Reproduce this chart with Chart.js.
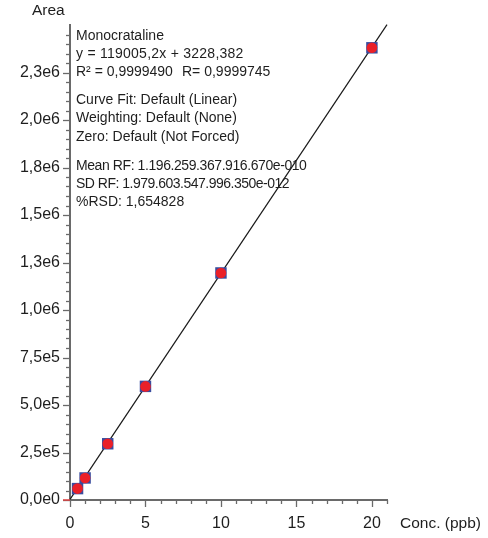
<!DOCTYPE html>
<html>
<head>
<meta charset="utf-8">
<script src="https://cdn.jsdelivr.net/npm/chart.js@4.4.1/dist/chart.umd.min.js"></script>
<style>
  html, body { margin: 0; padding: 0; background: #ffffff; }
  #wrap { width: 488px; height: 538px; position: relative; }
</style>
</head>
<body>
<div id="wrap"><canvas id="c" width="488" height="538"></canvas></div>
<script>
// ---- data ----
const concX = [0.5, 1, 2.5, 5, 10, 20];
const areaY = [60000, 116000, 296000, 598000, 1195000, 2380000];
const fitX = [0, 21];
const fitY = [3228, 2502337];
const xTickValues = [0, 5, 10, 15, 20];
const xTickLabels = ["0", "5", "10", "15", "20"];
const yTickValues = [0, 250000, 500000, 750000, 1000000, 1250000, 1500000, 1750000, 2000000, 2250000];
const yTickLabels = ["0,0e0", "2,5e5", "5,0e5", "7,5e5", "1,0e6", "1,3e6", "1,5e6", "1,8e6", "2,0e6", "2,3e6"];
const infoLines = [
  "Monocrataline",
  "y = 119005,2x + 3228,382",
  "R\u00B2 = 0,9999490",
  "Curve Fit: Default (Linear)",
  "Weighting: Default (None)",
  "Zero: Default (Not Forced)",
  "Mean RF: 1.196.259.367.916.670e-010",
  "SD RF: 1.979.603.547.996.350e-012",
  "%RSD: 1,654828"
];
const infoExtra = "R= 0,9999745";
const xTitle = "Conc. (ppb)";
const yTitle = "Area";

const FONT = "'Liberation Sans', Arial, sans-serif";
const AXIS = "#6a6a6a";
const TEXT = "#1e1e1e";

const decor = {
  id: 'decor',
  afterDraw(chart) {
    const ctx = chart.ctx;
    const xs = chart.scales.x, ys = chart.scales.y;
    ctx.save();
    ctx.strokeStyle = AXIS;
    ctx.lineWidth = 1.3;
    // x ticks (every 1 unit, long at multiples of 5)
    const x0 = ys.getPixelForValue(0);
    for (let v = 0; v <= xs.max + 1e-9; v += 1) {
      const px = Math.round(xs.getPixelForValue(v)) + 0.5;
      const len = (v % 5 === 0) ? 7 : 4;
      ctx.beginPath();
      ctx.moveTo(px, x0);
      ctx.lineTo(px, x0 + len);
      ctx.stroke();
    }
    // y ticks (every 5e4, long at multiples of 2.5e5)
    const yAxisX = xs.getPixelForValue(0);
    for (let v = 0; v <= ys.max - 1; v += 50000) {
      const py = Math.round(ys.getPixelForValue(v)) + 0.5;
      const len = (v % 250000 === 0) ? 7 : 4;
      ctx.beginPath();
      ctx.moveTo(yAxisX, py);
      ctx.lineTo(yAxisX - len, py);
      ctx.stroke();
    }
    // small red mark at the origin
    ctx.strokeStyle = '#e04040';
    ctx.lineWidth = 1.5;
    ctx.beginPath();
    ctx.moveTo(yAxisX - 7, x0);
    ctx.lineTo(yAxisX, x0);
    ctx.stroke();
    // titles
    ctx.fillStyle = TEXT;
    ctx.textBaseline = 'alphabetic';
    ctx.textAlign = 'left';
    ctx.font = "15.5px " + FONT;
    ctx.fillText(yTitle, 32, 15);
    ctx.fillText(xTitle, 400, 528);
    // info text
    ctx.font = "14px " + FONT;
    const base = [40, 58, 76, 104, 122, 141, 170, 188, 206];
    const spacing = ['0px', '0.25px', '0px', '0px', '0px', '0px', '-0.42px', '-0.5px', '0px'];
    infoLines.forEach((t, i) => {
      ctx.letterSpacing = spacing[i];
      ctx.fillText(t, 76, base[i]);
    });
    ctx.letterSpacing = '0px';
    ctx.fillText(infoExtra, 182, base[2]);
    ctx.restore();
  }
};

new Chart(document.getElementById('c'), {
  type: 'scatter',
  data: {
    datasets: [
      {
        type: 'line',
        data: fitX.map((x, i) => ({ x, y: fitY[i] })),
        borderColor: '#1a1a1a',
        borderWidth: 1.2,
        pointRadius: 0,
        fill: false,
        clip: false,
        order: 3
      },
      {
        data: concX.map((x, i) => ({ x, y: areaY[i] })),
        pointStyle: 'rect',
        pointRadius: 8.1,
        backgroundColor: '#3a4c9e',
        borderWidth: 0,
        order: 2
      },
      {
        data: concX.map((x, i) => ({ x, y: areaY[i] })),
        pointStyle: 'circle',
        pointRadius: 5.3,
        backgroundColor: '#ea2028',
        borderWidth: 0,
        order: 1
      }
    ]
  },
  options: {
    responsive: false,
    animation: false,
    events: [],
    layout: { padding: { left: 0, right: 101, top: 25, bottom: 0 } },
    plugins: { legend: { display: false }, tooltip: { enabled: false } },
    scales: {
      x: {
        type: 'linear',
        min: 0, max: 21,
        afterFit(s) { s.height = 38; },
        afterBuildTicks(s) { s.ticks = xTickValues.map(v => ({ value: v })); },
        grid: { display: true, drawOnChartArea: false, drawTicks: false },
        border: { display: true, color: AXIS, width: 2 },
        ticks: {
          padding: 14,
          color: TEXT,
          font: { family: FONT, size: 16 },
          maxRotation: 0,
          callback: (v) => { const i = xTickValues.indexOf(v); return i >= 0 ? xTickLabels[i] : ''; }
        }
      },
      y: {
        type: 'linear',
        min: 0, max: 2500000,
        afterFit(s) { s.width = 70; },
        afterBuildTicks(s) { s.ticks = yTickValues.map(v => ({ value: v })); },
        grid: { display: true, drawOnChartArea: false, drawTicks: false },
        border: { display: true, color: AXIS, width: 2 },
        ticks: {
          padding: 10,
          color: TEXT,
          font: { family: FONT, size: 16 },
          callback: (v) => { const i = yTickValues.indexOf(v); return i >= 0 ? yTickLabels[i] : ''; }
        }
      }
    }
  },
  plugins: [decor]
});
</script>
</body>
</html>
